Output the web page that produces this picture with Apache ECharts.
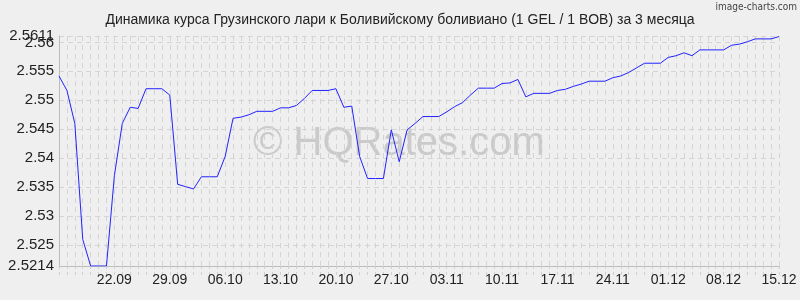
<!DOCTYPE html>
<html>
<head>
<meta charset="utf-8">
<script src="https://cdn.jsdelivr.net/npm/echarts@6/dist/echarts.min.js"></script>
<style>
html,body{margin:0;padding:0;background:#efefef;}
#chart{width:800px;height:300px;}
</style>
</head>
<body>
<div id="chart"></div>
<script>
const titleText = 'Динамика курса Грузинского лари к Боливийскому боливиано (1 GEL / 1 BOB) за 3 месяца';
const dates = [
 '15.09','16.09','17.09','18.09','19.09','20.09','21.09','22.09','23.09','24.09','25.09','26.09','27.09','28.09','29.09','30.09',
 '01.10','02.10','03.10','04.10','05.10','06.10','07.10','08.10','09.10','10.10','11.10','12.10','13.10','14.10','15.10','16.10',
 '17.10','18.10','19.10','20.10','21.10','22.10','23.10','24.10','25.10','26.10','27.10','28.10','29.10','30.10','31.10',
 '01.11','02.11','03.11','04.11','05.11','06.11','07.11','08.11','09.11','10.11','11.11','12.11','13.11','14.11','15.11',
 '16.11','17.11','18.11','19.11','20.11','21.11','22.11','23.11','24.11','25.11','26.11','27.11','28.11','29.11','30.11',
 '01.12','02.12','03.12','04.12','05.12','06.12','07.12','08.12','09.12','10.12','11.12','12.12','13.12','14.12','15.12'
];
const rates = [
 2.5542,2.5517,2.5460,2.5260,2.5214,2.5214,2.5214,2.5370,2.5460,2.5488,2.5486,2.5520,2.5520,2.5520,2.5509,2.5355,
 2.5351,2.5347,2.5368,2.5368,2.5368,2.5403,2.5469,2.5471,2.5475,2.5481,2.5481,2.5481,2.5487,2.5487,2.5491,2.5503,
 2.5517,2.5517,2.5517,2.5520,2.5488,2.5490,2.5403,2.5365,2.5365,2.5365,2.5449,2.5394,2.5449,2.5460,2.5472,
 2.5472,2.5472,2.5480,2.5489,2.5496,2.5509,2.5521,2.5521,2.5521,2.5529,2.5530,2.5536,2.5506,2.5512,2.5512,
 2.5512,2.5517,2.5519,2.5524,2.5528,2.5533,2.5533,2.5533,2.5539,2.5542,2.5548,2.5556,2.5564,2.5564,2.5564,
 2.5574,2.5577,2.5582,2.5577,2.5587,2.5587,2.5587,2.5587,2.5595,2.5597,2.5601,2.5606,2.5606,2.5606,2.5610
];
const yTicks = [2.5214, 2.525, 2.53, 2.535, 2.54, 2.545, 2.55, 2.555, 2.56];
const yTopTick = [2.5611];
const yMin = 2.5214, yMax = 2.5611;
const xLabelDates = ['22.09','29.09','06.10','13.10','20.10','27.10','03.11','10.11','17.11','24.11','01.12','08.12','15.12'];

const font = "'Liberation Sans', Arial, sans-serif";
const yLabelStyle = {
  showMinLabel: true, showMaxLabel: true, hideOverlap: false,
  formatter: function(v){ return String(+(+v).toFixed(4)); },
  fontFamily: font, fontSize: 15, color: '#222', margin: 5
};
const chart = echarts.init(document.getElementById('chart'), null, {renderer:'canvas'});
chart.setOption({
  backgroundColor: '#efefef',
  animation: false,
  title: {
    text: titleText, left: 'center', top: 8,
    textStyle: {fontFamily: font, fontSize: 14, fontWeight: 'normal', color: '#222'}
  },
  graphic: [
    {type:'text', right: 3, top: 2, z: 10,
     style:{text:'image-charts.com', fontFamily:"'Liberation Sans Narrow','DejaVu Sans Condensed',sans-serif", fontSize: 10, fill:'#444'}},
    {type:'text', left: 253, top: 124, z: -10, zlevel: 0,
     style:{text:'© HQRates.com', fontFamily: font, fontSize: 40, fill:'#cacaca'}}
  ],
  grid: {left: 59, right: 21, top: 36, bottom: 34},
  xAxis: {
    type: 'category', data: dates, boundaryGap: false,
    axisLine: {show: true, lineStyle: {color: '#bcbcbc'}},
    axisTick: {show: true, interval: 0, length: 10, lineStyle: {color: '#d0d0d0', type: [3,3]}},
    splitLine: {show: true, interval: 0, lineStyle: {color: '#d4d4d4', type: [5,4]}},
    axisLabel: {
      interval: function(i, v){ return xLabelDates.indexOf(v) >= 0; },
      fontFamily: font, fontSize: 14, color: '#222', margin: 7, hideOverlap: false
    }
  },
  yAxis: [{
    type: 'value', min: yMin, max: yMax, position: 'left',
    axisLine: {show: true, lineStyle: {color: '#bcbcbc'}},
    axisTick: {show: false, customValues: yTicks.concat(yTopTick)},
    splitLine: {show: true, lineStyle: {color: '#d4d4d4', type: [5,4]}},
    axisLabel: Object.assign({customValues: yTicks}, yLabelStyle)
  }, {
    type: 'value', min: yMin, max: yMax, position: 'left', offset: 0,
    axisLine: {show: false}, axisTick: {show: false, customValues: yTopTick},
    splitLine: {show: false},
    axisLabel: Object.assign({customValues: yTopTick}, yLabelStyle)
  }],
  series: [{
    type: 'line', data: rates, symbol: 'none', z: 5, yAxisIndex: 0,
    lineStyle: {color: '#2222ff', width: 1}
  }]
});
</script>
</body>
</html>
